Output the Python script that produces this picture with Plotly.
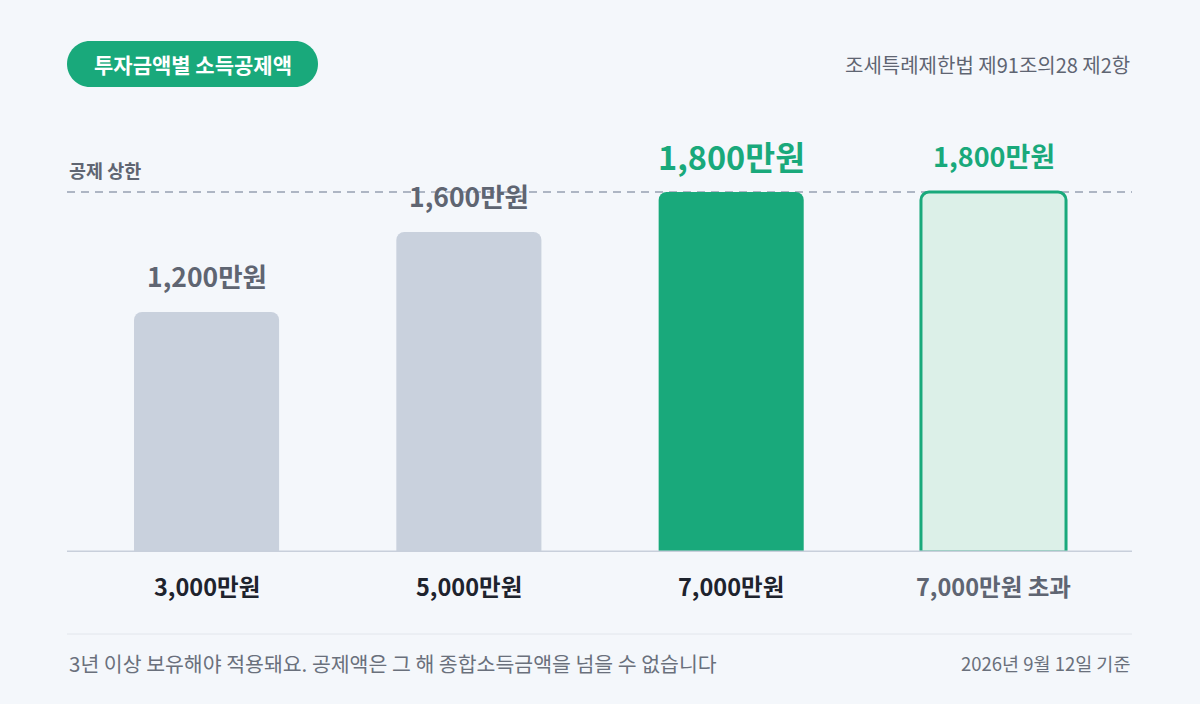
import plotly.graph_objects as go

# Data
categories = ['3,000만원', '5,000만원', '7,000만원', '7,000만원 초과']
deduction = [1200, 1600, 1800, 1800]
value_labels = ['1,200만원', '1,600만원', '1,800만원', '1,800만원']
cap_value = 1800

FONT = 'Noto Sans CJK KR'
BG = '#f4f7fb'
GREEN = '#19a97b'
GRAY_BAR = '#c9d1dd'
TEXT_GRAY = '#5f6572'
TEXT_DARK = '#1e232d'

bar_fill = [GRAY_BAR, GRAY_BAR, GREEN, '#dcf0e8']
bar_line = [GRAY_BAR, GRAY_BAR, GREEN, GREEN]
bar_line_w = [0, 0, 0, 3]

fig = go.Figure(
    go.Bar(
        x=list(range(len(categories))),
        y=deduction,
        width=0.553,
        marker=dict(color=bar_fill, line=dict(color=bar_line, width=bar_line_w)),
        hoverinfo='skip',
    )
)

# value labels above bars
label_colors = [TEXT_GRAY, TEXT_GRAY, GREEN, GREEN]
label_sizes = [26.5, 26.5, 32.5, 27]
for i, (v, t) in enumerate(zip(deduction, value_labels)):
    fig.add_annotation(x=i, y=v, text='<b>' + t + '</b>', showarrow=False,
                       yanchor='middle', yshift=37,
                       font=dict(family=FONT, size=label_sizes[i], color=label_colors[i]))

# category labels under the baseline
cat_colors = [TEXT_DARK, TEXT_DARK, TEXT_DARK, TEXT_GRAY]
for i, c in enumerate(categories):
    fig.add_annotation(x=i, y=0, text='<b>' + c + '</b>', showarrow=False,
                       yanchor='middle', yshift=-34,
                       font=dict(family=FONT, size=23.5, color=cat_colors[i]))

# cap line + baseline
fig.add_shape(type='line', xref='paper', x0=0, x1=1, y0=cap_value, y1=cap_value,
              line=dict(color='#aeb6c4', width=2, dash='8px,6px'), layer='below')
fig.add_shape(type='line', xref='paper', x0=0, x1=1, y0=0, y1=0,
              line=dict(color='#c8cfdb', width=3), layer='above')
fig.add_annotation(xref='paper', x=0, y=cap_value, text='<b>공제 상한</b>', showarrow=False,
                   xanchor='left', yanchor='middle', yshift=22,
                   font=dict(family=FONT, size=18.5, color=TEXT_GRAY))

# title pill
fig.add_shape(type='path', xref='paper', yref='paper', xsizemode='pixel', ysizemode='pixel',
              xanchor=0, yanchor=1.22,
              path='M 23,-23 L 228,-23 C 240.7,-23 251,-12.7 251,0 C 251,12.7 240.7,23 228,23 '
                   'L 23,23 C 10.3,23 0,12.7 0,0 C 0,-12.7 10.3,-23 23,-23 Z',
              fillcolor=GREEN, line=dict(width=0))
fig.add_annotation(xref='paper', yref='paper', x=0, y=1.22, xshift=125.5,
                   text='<b>투자금액별 소득공제액</b>', showarrow=False,
                   xanchor='center', yanchor='middle',
                   font=dict(family=FONT, size=21, color='white'))
fig.add_annotation(xref='paper', yref='paper', x=1, y=1.22, text='조세특례제한법 제91조의28 제2항',
                   showarrow=False, xanchor='right', yanchor='middle',
                   font=dict(family=FONT, size=20, color=TEXT_GRAY))

# footer
fig.add_shape(type='line', xref='paper', yref='paper', x0=0, x1=1, y0=-0.205, y1=-0.205,
              line=dict(color='#e2e6ec', width=1))
fig.add_annotation(xref='paper', yref='paper', x=0, y=-0.2775,
                   text='3년 이상 보유해야 적용돼요. 공제액은 그 해 종합소득금액을 넘을 수 없습니다',
                   showarrow=False, xanchor='left', yanchor='middle',
                   font=dict(family=FONT, size=20.5, color='#6a707c'))
fig.add_annotation(xref='paper', yref='paper', x=1, y=-0.2775, text='2026년 9월 12일 기준',
                   showarrow=False, xanchor='right', yanchor='middle',
                   font=dict(family=FONT, size=18.5, color='#6a707c'))

fig.update_layout(
    width=1200, height=704,
    margin=dict(l=67, r=68, t=152, b=152),
    paper_bgcolor=BG, plot_bgcolor=BG,
    barcornerradius=8,
    showlegend=False,
    font=dict(family=FONT),
    xaxis=dict(range=[-0.532, 3.528], visible=False, fixedrange=True),
    yaxis=dict(range=[0, 2000], visible=False, fixedrange=True),
)

# drop the default page margin so the figure fills the window
fig.write_html('out.html', config={'displayModeBar': False},
               post_script="document.body.style.margin='0';document.body.style.background='#f4f7fb';")
